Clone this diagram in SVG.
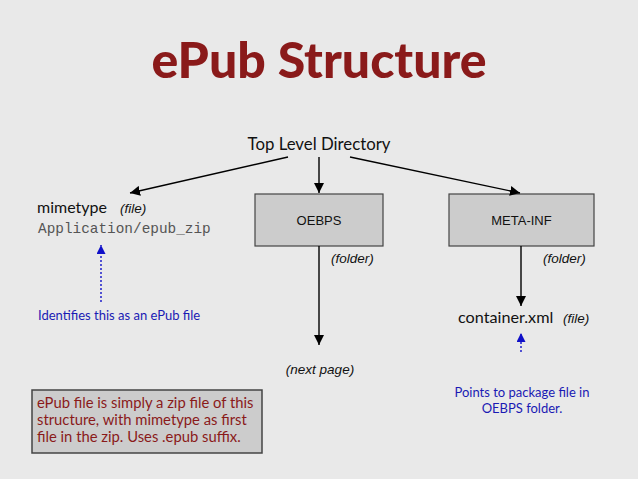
<svg xmlns="http://www.w3.org/2000/svg" width="638" height="479" viewBox="0 0 638 479">
<defs>
<style>
.gill{font-family:Lato,"Open Sans","Liberation Sans",sans-serif}
.helv{font-family:"Liberation Sans",Arial,sans-serif}
.it{font-family:"Liberation Sans",Arial,sans-serif;font-style:italic;font-size:13.5px;fill:#111}
.box{fill:#cccccc;stroke:#444;stroke-width:1.2}
.conn{stroke:#000;stroke-width:1.4;fill:none}
.blue{stroke:#1010c8;stroke-width:1.4;stroke-dasharray:2 2;fill:none}
.bt{fill:#1a1ab4;font-size:13px}
.rt{fill:#8a1a1a;font-size:14.8px}
</style>
<marker id="ah" viewBox="0 0 10 10" refX="10" refY="5" markerWidth="10" markerHeight="10" markerUnits="userSpaceOnUse" orient="auto"><path d="M0,0 L10,5 L0,10 z" fill="#000"/></marker>
<marker id="ahb" viewBox="0 0 10 10" refX="10" refY="5" markerWidth="9" markerHeight="9" markerUnits="userSpaceOnUse" orient="auto"><path d="M0,0 L10,5 L0,10 z" fill="#1010c8"/></marker>
</defs>
<rect width="638" height="479" fill="#e9e9e9"/>
<text x="319" y="78" text-anchor="middle" class="gill" font-weight="900" font-size="50" fill="#8a1a1a">ePub Structure</text>

<g id="top"><text x="319" y="150" text-anchor="middle" class="gill" font-size="16.8" fill="#111">Top Level Directory</text></g>

<g id="mimetype">
<text x="37" y="213" class="gill" font-size="16" fill="#111">mimetype</text>
<text x="120" y="213" class="it">(file)</text>
<text x="38" y="233" font-family="'Liberation Mono','Courier New',monospace" font-size="14.4" fill="#555">Application/epub_zip</text>
</g>

<g id="oebps">
<rect class="box" x="255" y="194" width="128" height="52"/>
<text x="319" y="225" text-anchor="middle" class="helv" font-size="13" fill="#111">OEBPS</text>
<text x="331" y="263" class="it">(folder)</text>
</g>

<g id="metainf">
<rect class="box" x="449" y="194" width="145" height="52"/>
<text x="521.5" y="225" text-anchor="middle" class="helv" font-size="13" fill="#111">META-INF</text>
<text x="543" y="263" class="it">(folder)</text>
</g>

<g id="nextpage"><text x="320" y="374" text-anchor="middle" class="it" font-size="14">(next page)</text></g>

<g id="container">
<text x="458" y="323" class="gill" font-size="16.2" fill="#111">container.xml</text>
<text x="563" y="323" class="it">(file)</text>
</g>

<g id="note-mime"><text x="38" y="320" class="gill bt">Identifies this as an ePub file</text></g>
<g id="note-container">
<text x="522" y="397" text-anchor="middle" class="gill bt">Points to package file in</text>
<text x="522" y="413" text-anchor="middle" class="gill bt">OEBPS folder.</text>
</g>

<g id="summary">
<rect x="32" y="390" width="230" height="63" fill="#cccccc" stroke="#444" stroke-width="1.5"/>
<text class="gill rt" x="37" y="408">ePub file is simply a zip file of this</text>
<text class="gill rt" x="37" y="425">structure, with mimetype as first</text>
<text class="gill rt" x="37" y="442">file in the zip. Uses .epub suffix.</text>
</g>

<g id="connectors">
<line class="conn" x1="288" y1="157" x2="130" y2="193" marker-end="url(#ah)"/>
<line class="conn" x1="319" y1="157" x2="319" y2="193" marker-end="url(#ah)"/>
<line class="conn" x1="350" y1="157" x2="520" y2="193" marker-end="url(#ah)"/>
<line class="conn" x1="319" y1="246" x2="319" y2="345" marker-end="url(#ah)"/>
<line class="conn" x1="521" y1="246" x2="521" y2="306" marker-end="url(#ah)"/>
<line class="blue" x1="101" y1="302" x2="101" y2="245" marker-end="url(#ahb)"/>
<line class="blue" x1="521" y1="352" x2="521" y2="333" marker-end="url(#ahb)"/>
</g>
</svg>
